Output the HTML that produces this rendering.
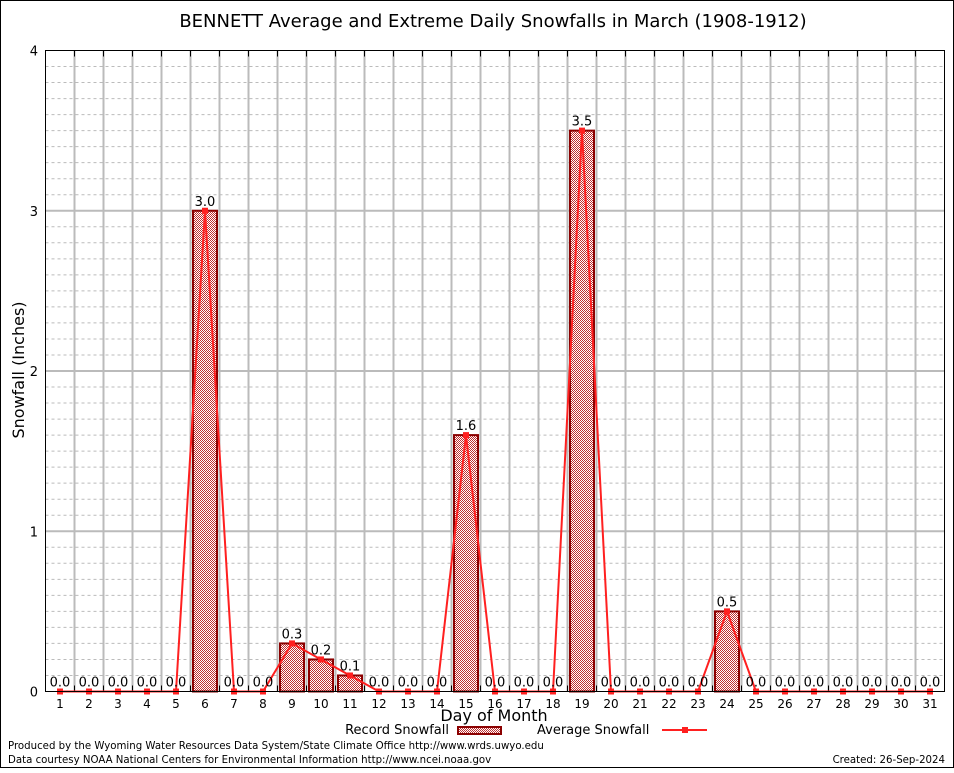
<!DOCTYPE html>
<html><head><meta charset="utf-8"><style>
body{margin:0;background:#fff;}
svg text{font-family:"DejaVu Sans","Liberation Sans",sans-serif;}
</style></head><body>
<svg id="c" width="954" height="768" xmlns="http://www.w3.org/2000/svg">
<defs>
<pattern id="hatch" width="2" height="2" patternUnits="userSpaceOnUse">
<rect width="2" height="2" fill="#fff"/><rect width="1" height="1" fill="#c03030"/><rect x="1" y="1" width="1" height="1" fill="#c03030"/>
</pattern>
</defs>
<rect x="0.5" y="0.5" width="953" height="767" fill="#fff" stroke="#000"/>
<text x="493" y="27" font-size="18" text-anchor="middle">BENNETT Average and Extreme Daily Snowfalls in March (1908-1912)</text>
<g id="grid"></g>
<g id="bars"></g>
<g id="line"></g>
<g id="labels"></g>
<rect x="45.5" y="50.5" width="899" height="641" fill="none" stroke="#000"/>
<text x="24" y="370" font-size="16" text-anchor="middle" transform="rotate(-90 24 370)">Snowfall (Inches)</text>
<text x="494" y="721" font-size="16" text-anchor="middle">Day of Month</text>
<g>
<text x="449" y="734" font-size="13" text-anchor="end">Record Snowfall</text>
<rect x="458" y="727" width="43" height="7" fill="url(#hatch)" stroke="#8b0000" stroke-width="2"/>
</g>
<g>
<text x="537" y="734" font-size="13">Average Snowfall</text>
<line x1="662" y1="730" x2="707" y2="730" stroke="#ff2020" stroke-width="2"/>
<rect x="682" y="727" width="6" height="6" fill="#ff2020"/>
</g>
<text x="8" y="749" font-size="10.2">Produced by the Wyoming Water Resources Data System/State Climate Office http://www.wrds.uwyo.edu</text>
<text x="8" y="763" font-size="10.2">Data courtesy NOAA National Centers for Environmental Information http://www.ncei.noaa.gov</text>
<text x="945" y="763" font-size="10.2" text-anchor="end">Created: 26-Sep-2024</text>
</svg>
<script>
const days=[1,2,3,4,5,6,7,8,9,10,11,12,13,14,15,16,17,18,19,20,21,22,23,24,25,26,27,28,29,30,31];
const recordValues=[0,0,0,0,0,3.0,0,0,0.3,0.2,0.1,0,0,0,1.6,0,0,0,3.5,0,0,0,0,0.5,0,0,0,0,0,0,0];
const averageValues=[0,0,0,0,0,3.0,0,0,0.3,0.2,0.1,0,0,0,1.6,0,0,0,3.5,0,0,0,0,0.5,0,0,0,0,0,0,0];
const yTicks=[0,1,2,3,4];
const NS="http://www.w3.org/2000/svg";
const L=45.5,R=944.5,T=50.5,B=691.5,yMax=4;
const xs=d=>L+(d-0.5)*(R-L)/31;
const ys=v=>B-v*(B-T)/yMax;
function mk(tag,attrs,parent,txt){const e=document.createElementNS(NS,tag);for(const k in attrs)e.setAttribute(k,attrs[k]);if(txt!==undefined)e.textContent=txt;document.getElementById(parent).appendChild(e);return e;}
for(let i=1;i<40;i++){if(i%10===0)continue;const y=ys(i/10);
const g=mk('line',{x1:L,x2:R,y1:y,y2:y,stroke:'#bbb','stroke-dasharray':'3,3'},'grid');

}
for(let d=1;d<31;d++){const x=xs(d+0.5);
const g=mk('line',{x1:x,x2:x,y1:T,y2:B,stroke:'#bbb','stroke-width':2},'grid');


mk('line',{x1:x,x2:x,y1:T,y2:T+6,stroke:'#000'},'grid');
mk('line',{x1:x,x2:x,y1:B,y2:B-6,stroke:'#000'},'grid');}
yTicks.forEach(v=>{const y=ys(v);
if(v>0&&v<yMax){const g=mk('line',{x1:L,x2:R,y1:y,y2:y,stroke:'#bbb','stroke-width':2},'grid');

}
const t=mk('text',{x:38,y:y+5,'font-size':13,'text-anchor':'end','font-family':'Liberation Serif, serif'},'labels',String(v));

});
days.forEach((d,i)=>{const x=xs(d);
const t=mk('text',{x:x,y:708,'font-size':12,'text-anchor':'middle','font-family':'Liberation Serif, serif'},'labels',String(d));


const v=recordValues[i];
if(v>0){const b=mk('rect',{x:x-12,y:ys(v),width:24,height:B-ys(v),fill:'url(#hatch)',stroke:'#8b0000','stroke-width':2},'bars');

}
const lb=mk('text',{x:x,y:ys(v)-5,'font-size':13,'text-anchor':'middle'},'labels',v.toFixed(1));

});
const pts=days.map((d,i)=>xs(d)+','+ys(averageValues[i])).join(' ');
const pl=mk('polyline',{points:pts,fill:'none',stroke:'#ff2020','stroke-width':2},'line');


days.forEach((d,i)=>{const m=mk('rect',{x:xs(d)-3,y:ys(averageValues[i])-3,width:6,height:6,fill:'#ff2020'},'line');

});
</script>
</body></html>
